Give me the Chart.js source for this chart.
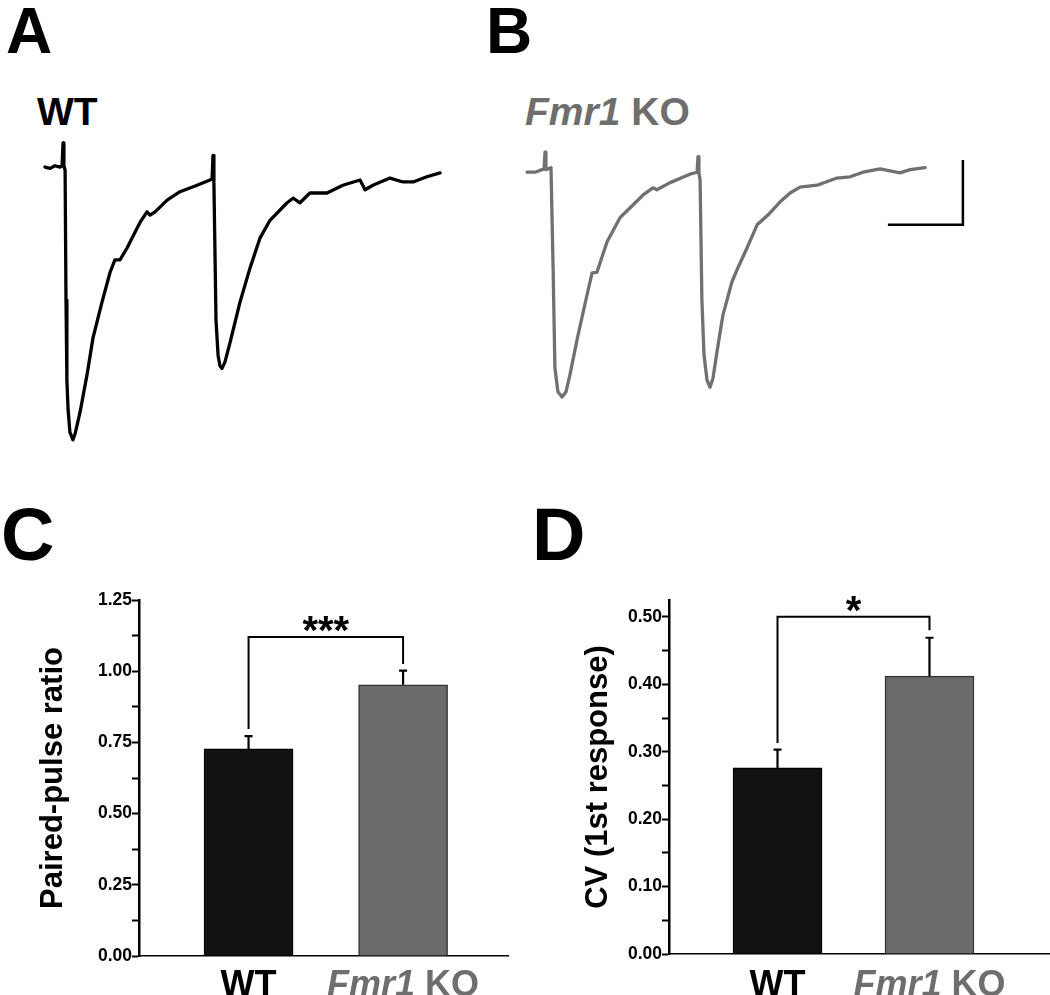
<!DOCTYPE html>
<html>
<head>
<meta charset="utf-8">
<script src="https://cdn.jsdelivr.net/npm/chart.js@4.4.1/dist/chart.umd.min.js"></script>
<style>
  body { margin: 0; background: #fff; }
  #page { position: relative; width: 1050px; height: 995px; overflow: hidden; background: #fff;
          font-family: "Liberation Sans", Arial, sans-serif; font-weight: bold; }
  .lbl { position: absolute; line-height: 1; white-space: nowrap; }
  .panel { position: absolute; }
  .grey { color: #6e6e6e; }
</style>
</head>
<body>
<div id="page">
  <div class="lbl" style="left:6px;top:-1px;font-size:64px;">A</div>
  <div class="lbl" style="left:486px;top:-1px;font-size:64px;">B</div>
  <div class="lbl" style="left:1px;top:498px;font-size:74px;">C</div>
  <div class="lbl" style="left:532px;top:498px;font-size:74px;">D</div>
  <div class="lbl" style="left:37px;top:92px;font-size:39px;">WT</div>
  <div class="lbl grey" style="left:525px;top:92px;font-size:39px;"><i>Fmr1</i> KO</div>

  <canvas class="panel" id="traceWT" width="450" height="330" style="left:30px;top:130px;"></canvas>
  <canvas class="panel" id="traceKO" width="459" height="330" style="left:512px;top:130px;"></canvas>
  <canvas class="panel" id="pprChart" width="520" height="435" style="left:0px;top:560px;"></canvas>
  <canvas class="panel" id="cvChart" width="530" height="435" style="left:520px;top:560px;"></canvas>
</div>
<script>
// example traces (time in ms, current in pA)
const wtTime = [0, 1.7, 3.3, 5, 5.7, 6, 6.3, 6.7, 7, 7.3, 7.7, 8.3, 9.3, 10, 11.7, 14, 16, 19, 21.7, 23.3, 25, 27.3,
  31.7, 34, 35, 36.7, 40.7, 45, 50.7, 55, 55.7, 56, 56.3, 56.7, 57, 57.7, 58.3, 59, 60, 61.7, 65, 68.3, 71.7, 75,
  80.7, 82.7, 85, 88.3, 94, 99.3, 105, 106.7, 109.3, 115, 119.3, 122.7, 127.3, 131.7];
const wtCurrent = [0, -2, 2, 0, 2, 37, 2, -5, -205, -328, -374, -408, -420, -411, -377, -320, -263, -208, -162, -143, -143, -125,
  -85, -69, -74, -69, -51, -38, -28, -20, -18, 18, -23, -143, -236, -290, -306, -310, -300, -270, -208, -156, -109, -82,
  -55, -48, -55, -40, -40, -28, -20, -35, -28, -17, -23, -23, -15, -9];

const koTime = [0, 2.7, 5, 5.7, 6, 6.3, 8, 8.7, 9.3, 10.3, 11.7, 13, 14.3, 17, 20, 21.7, 23.3, 26.7, 31, 34.3, 38.7, 42, 43.3,
  47.7, 54.3, 56.7, 57, 57.3, 57.7, 58.3, 59, 60, 61, 62, 63.3, 65.3, 68.3, 70.3, 73.3, 76.7, 80.3, 84.3, 87.7, 91,
  96.7, 103.3, 107.7, 112, 117.7, 124.3, 127.7, 132.7];
const koCurrent = [-2, -2, 2, 3, 29, 2, 5, -149, -303, -340, -348, -340, -314, -253, -191, -157, -156, -109, -72, -57, -37, -26, -29,
  -18, -5, -2, 22, -3, -14, -199, -283, -322, -333, -319, -279, -222, -171, -149, -119, -83, -68, -48, -34, -25,
  -22, -11, -9, -2, 3, -3, 2, 5];

// scale bar: 25 ms, 100 pA
const scaleBarMs = 25;
const scaleBarPA = 100;
const scaleBarCorner = [145.3, -83];

// summary data
const groups = ["WT", "Fmr1 KO"];
const pprMean = [0.727, 0.952];
const pprSem = [0.045, 0.05];
const pprBracketLevel = 1.12;
const pprBracketLegs = [0.797, 1.025];
const cvMean = [0.276, 0.412];
const cvSem = [0.027, 0.057];
const cvBracketLevel = 0.5;
const cvBracketLegs = [0.313, 0.48];

const FONT = "'Liberation Sans', Arial, sans-serif";
const GREY = "#6e6e6e";

function pts(xs, ys) {
  return xs.map((x, i) => ({ x: x, y: ys[i] }));
}

function traceChart(id, xs, ys, color, xr, yr, extra) {
  const datasets = [{
    data: pts(xs, ys),
    borderColor: color,
    borderWidth: 3.3,
    pointRadius: 0,
    tension: 0,
    borderJoinStyle: "round",
    borderCapStyle: "round",
  }];
  if (extra) datasets.push(extra);
  return new Chart(document.getElementById(id).getContext("2d"), {
    type: "line",
    data: { datasets: datasets },
    options: {
      responsive: false,
      animation: false,
      devicePixelRatio: 1,
      layout: { padding: 0 },
      plugins: { legend: { display: false }, tooltip: { enabled: false } },
      scales: {
        x: { type: "linear", min: xr[0], max: xr[1], display: false },
        y: { type: "linear", min: yr[0], max: yr[1], display: false },
      },
    },
  });
}

traceChart("traceWT", wtTime, wtCurrent, "#000", [-5, 145], [-451, 57]);
traceChart("traceKO", koTime, koCurrent, "#707070", [-5, 148], [-445, 63], {
  data: [
    { x: scaleBarCorner[0], y: scaleBarCorner[1] + scaleBarPA },
    { x: scaleBarCorner[0], y: scaleBarCorner[1] },
    { x: scaleBarCorner[0] - scaleBarMs, y: scaleBarCorner[1] },
  ],
  borderColor: "#000",
  borderWidth: 2.5,
  pointRadius: 0,
  tension: 0,
});

// error bars, bracket, stars, group labels and axis title
const barDecor = {
  id: "barDecor",
  afterDraw(chart, args, o) {
    const ctx = chart.ctx;
    const xs = chart.scales.x;
    const ys = chart.scales.y;
    ctx.save();
    ctx.strokeStyle = "#000";
    ctx.lineWidth = 2.2;
    o.mean.forEach((m, i) => {
      const px = xs.getPixelForValue(i);
      const top = ys.getPixelForValue(m + o.sem[i]);
      ctx.beginPath();
      ctx.moveTo(px, ys.getPixelForValue(m));
      ctx.lineTo(px, top);
      ctx.moveTo(px - 4, top);
      ctx.lineTo(px + 4, top);
      ctx.stroke();
    });
    // bracket
    const bx0 = xs.getPixelForValue(0);
    const bx1 = xs.getPixelForValue(1);
    const by = ys.getPixelForValue(o.level);
    ctx.lineWidth = 2;
    ctx.beginPath();
    ctx.moveTo(bx0, ys.getPixelForValue(o.legs[0]));
    ctx.lineTo(bx0, by);
    ctx.lineTo(bx1, by);
    ctx.lineTo(bx1, ys.getPixelForValue(o.legs[1]));
    ctx.stroke();
    ctx.fillStyle = "#000";
    ctx.font = "bold 40px " + FONT;
    ctx.textAlign = "center";
    ctx.textBaseline = "alphabetic";
    ctx.fillText(o.stars, (bx0 + bx1) / 2, by + 7);
    // group labels
    const ly = chart.height + 1;
    groups.forEach((g, i) => {
      const cx = xs.getPixelForValue(i);
      ctx.textAlign = "left";
      if (g.startsWith("Fmr1")) {
        ctx.fillStyle = GREY;
        const it = "bold italic 36px " + FONT;
        const nm = "bold 36px " + FONT;
        ctx.font = it;
        const w1 = ctx.measureText("Fmr1").width;
        ctx.font = nm;
        const rest = g.slice(4);
        const w2 = ctx.measureText(rest).width;
        let sx = cx - (w1 + w2) / 2;
        ctx.font = it;
        ctx.fillText("Fmr1", sx, ly);
        ctx.font = nm;
        ctx.fillText(rest, sx + w1, ly);
      } else {
        ctx.fillStyle = "#000";
        ctx.font = "bold 36px " + FONT;
        ctx.textAlign = "center";
        ctx.fillText(g, cx, ly);
      }
    });
    // y title
    const ca = chart.chartArea;
    ctx.translate(ca.left - o.titleOffset, (ca.top + ca.bottom) / 2);
    ctx.rotate(-Math.PI / 2);
    ctx.fillStyle = "#000";
    ctx.font = "bold 31px " + FONT;
    ctx.textAlign = "center";
    ctx.fillText(o.title, 0, 0);
    ctx.restore();
  },
};

function barChart(id, mean, sem, yMax, step, labelEvery, axisW, pad, xr, deco) {
  return new Chart(document.getElementById(id).getContext("2d"), {
    type: "bar",
    data: {
      datasets: [{
        data: pts([0, 1], mean),
        backgroundColor: ["#111111", "#6b6b6b"],
        borderColor: ["#000", "#333"],
        borderWidth: 1.5,
        barThickness: 89,
      }],
    },
    plugins: [barDecor],
    options: {
      responsive: false,
      animation: false,
      devicePixelRatio: 1,
      layout: { padding: pad },
      plugins: { legend: { display: false }, tooltip: { enabled: false }, barDecor: deco },
      scales: {
        x: {
          type: "linear",
          min: xr[0],
          max: xr[1],
          offset: false,
          ticks: { display: false },
          grid: { display: false, drawTicks: false, offset: false },
          border: { display: true, color: "#000", width: 1.6 },
          afterFit: (s) => { s.height = 0; },
        },
        y: {
          min: 0,
          max: yMax,
          ticks: {
            stepSize: step,
            includeBounds: false,
            autoSkip: false,
            padding: 0,
            color: "#000",
            font: { family: FONT, size: 17.5, weight: "bold" },
            callback: (v) => (Math.round(v * 1000) % labelEvery === 0 ? v.toFixed(2) : ""),
          },
          grid: { drawOnChartArea: false, drawTicks: true, tickLength: 7, tickColor: "#000", tickWidth: 2 },
          border: { display: true, color: "#000", width: 2.5 },
          afterFit: (s) => { s.width = axisW; },
        },
      },
    },
  });
}

barChart("pprChart", pprMean, pprSem, 1.25, 0.125, 250, 139,
  { top: 40, right: 12, bottom: 39, left: 0 }, [-0.709, 1.679],
  { mean: pprMean, sem: pprSem, level: pprBracketLevel, legs: pprBracketLegs, stars: "***",
    title: "Paired-pulse ratio", titleOffset: 77 });

barChart("cvChart", cvMean, cvSem, 0.525, 0.05, 100, 149,
  { top: 40, right: 0, bottom: 41, left: 0 }, [-0.714, 1.793],
  { mean: cvMean, sem: cvSem, level: cvBracketLevel, legs: cvBracketLegs, stars: "*",
    title: "CV (1st response)", titleOffset: 62 });
</script>
</body>
</html>
